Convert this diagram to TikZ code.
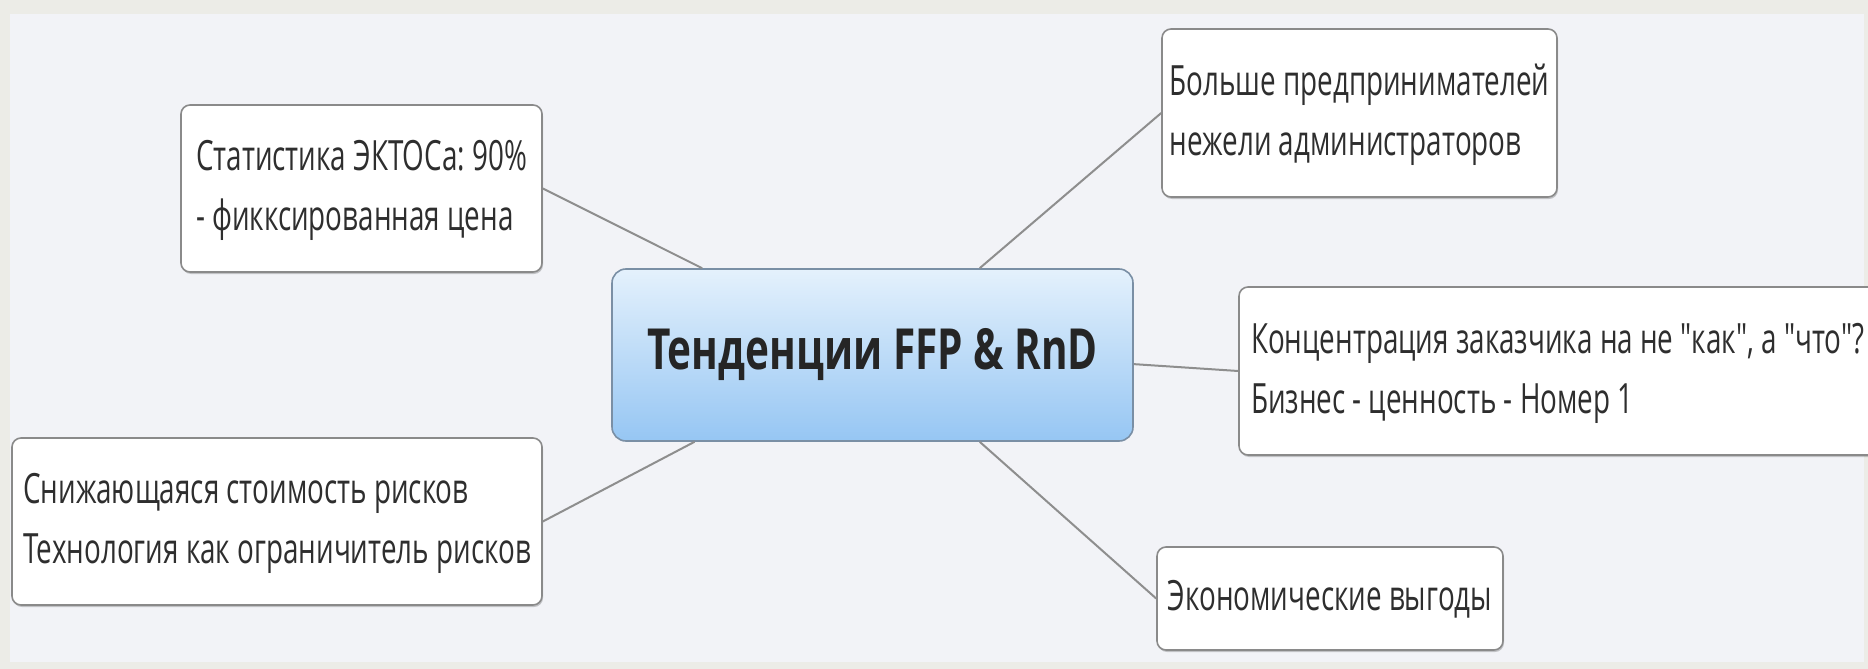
\documentclass[tikz,border=0pt]{standalone}
\usepackage{fontspec}
\setmainfont{Open Sans}
\usetikzlibrary{shadows}
\frenchspacing
\definecolor{bgout}{HTML}{ECECE7}
\definecolor{bgin}{HTML}{F2F3F7}
\definecolor{edgec}{HTML}{8E8E8E}
\definecolor{boxb}{HTML}{8A8A8A}
\definecolor{txt}{HTML}{2E2E2E}
\definecolor{ctop}{HTML}{E4F1FC}
\definecolor{cbot}{HTML}{96C6F3}
\definecolor{cborder}{HTML}{7A8FA5}
\newcommand{\tl}[1]{\scalebox{1}[1.5]{\fontsize{27.8}{40}\selectfont\begin{tabular}{@{}l@{}}#1\end{tabular}}}
\newcommand{\ttitle}[1]{\scalebox{1}[1.4]{\fontsize{40.5}{44}\selectfont\bfseries #1}}
\tikzset{
  topicbox/.style={draw=boxb, line width=1.6pt, fill=white, rounded corners=9pt, inner sep=0pt, text=txt,
    drop shadow={shadow xshift=1pt, shadow yshift=-2pt, opacity=0.2, fill=black}},
  centerbox/.style={draw=cborder, line width=1.6pt, top color=ctop, bottom color=cbot, rounded corners=14pt, inner sep=0pt, text=txt!80!black,
    minimum width=521pt, minimum height=172pt},
  link/.style={draw=edgec, line width=2pt}
}
\begin{document}
\begin{tikzpicture}[x=1pt,y=-1pt]
\fill[bgout] (0,0) rectangle (1868,669);
\fill[bgin] (10,14) rectangle (1864,662);
\useasboundingbox (0,0) rectangle (1868,669);
\node[centerbox] (T) at (872.5,355) {\ttitle{Тенденции FFP \& RnD}};
\node[topicbox, minimum width=361pt, minimum height=167pt] (A) at (361.5,188.5) {\tl{Статистика ЭКТОСа: 90\%\\- фикксированная цена}};
\node[topicbox, minimum width=395pt, minimum height=168pt] (B) at (1359.5,113) {\tl{Больше предпринимателей\\нежели администраторов}};
\node[topicbox, minimum width=641pt, minimum height=168pt] (C) at (1559.5,371) {\makebox[617pt][l]{\tl{Концентрация заказчика на не \textquotedbl как\textquotedbl, а \textquotedbl что\textquotedbl?\\Бизнес - ценность - Номер 1}}};
\node[topicbox, minimum width=346pt, minimum height=103pt] (D) at (1330,598.5) {\tl{Экономические выгоды}};
\node[topicbox, minimum width=530pt, minimum height=167pt] (E) at (277,521.5) {\tl{Снижающаяся стоимость рисков\\Технология как ограничитель рисков}};
\draw[link] (T.153.8) -- (A.east);
\draw[link] (T.39.5) -- (B.west);
\draw[link] (T.-2.9) -- (C.west);
\draw[link] (T.-39.5) -- (D.west);
\draw[link] (T.206.2) -- (E.east);
\end{tikzpicture}
\end{document}
